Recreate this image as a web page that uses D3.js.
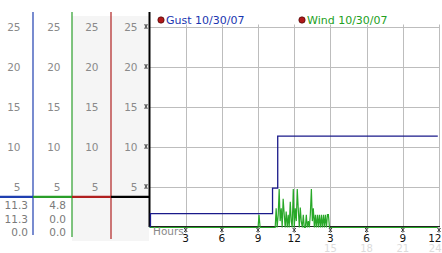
<!DOCTYPE html>
<html>
<head>
<meta charset="utf-8">
<script src="https://cdn.jsdelivr.net/npm/d3@7"></script>
<style>
  body { margin: 0; background: #fff; }
  text { font-family: "DejaVu Sans", Verdana, sans-serif; }
</style>
</head>
<body>
<svg id="chart" width="442" height="253"></svg>
<script>
// values
var yTicks = [5, 10, 15, 20, 25];
var hourTicks = [3, 6, 9, 12, 15, 18, 21, 24];
var hourLabels = ["3", "6", "9", "12", "3", "6", "9", "12"];
var altHours = [15, 18, 21, 24];
var altLabels = ["15", "18", "21", "24"];

var seriesNames = ["Gust 10/30/07", "Wind 10/30/07"];
var gustSummary = ["11.3", "11.3", "0.0"];
var windSummary = ["4.8", "0.0", "0.0"];

var gustHours = [0, 0.08, 10.2, 10.63, 23.9];
var gustValues = [0, 1.6, 4.8, 11.3, 11.3];

var windHours = [0, 9.0, 9.08, 9.17, 10.42, 10.5, 10.58, 10.67, 10.75, 10.83, 10.92, 11.0, 11.08, 11.17,
  11.25, 11.33, 11.42, 11.5, 11.58, 11.67, 11.75, 11.83, 11.92, 12.0, 12.08, 12.17, 12.25, 12.33,
  12.42, 12.5, 12.58, 12.67, 12.75, 12.83, 12.92, 13.0, 13.08, 13.17, 13.25, 13.33, 13.42, 13.5,
  13.58, 13.67, 13.75, 13.83, 13.92, 14.0, 14.08, 14.17, 14.25, 14.33, 14.42, 14.5, 14.58, 14.67,
  14.75, 14.83, 14.92, 15.0, 23.9];
var windValues = [0, 0, 1.6, 0, 0, 2.4, 0, 1.6, 4.8, 0.8, 2.4, 0, 3.6, 1.6, 0, 2.0, 0, 1.6, 0, 3.2,
  0.8, 0, 4.8, 0, 2.4, 0.8, 4.8, 2.4, 0, 2.5, 0.8, 0, 1.6, 0, 0, 1.6, 0, 0.8, 0, 1.6,
  4.8, 0.8, 2.4, 0, 1.6, 0, 1.6, 0, 1.6, 0, 1.6, 0, 1.6, 0, 1.6, 0, 1.6, 1.6, 0, 0, 0];

var svg = d3.select("#chart");

var x = d3.scaleLinear().domain([0, 24]).range([149.5, 439]);
var y = d3.scaleLinear().domain([0, 25]).range([226.5, 26.5]);

// left value columns
var cols = [
  { x: 33, lab: 20, color: "#1f3fb0", bottom: 235 },
  { x: 72, lab: 60, color: "#2a9e2a", bottom: 237 },
  { x: 111, lab: 98, color: "#b02020", bottom: 239 },
  { x: 149.5, lab: 137, color: "#000", bottom: 227 }
];

// shaded panels
svg.append("rect").attr("x", 72).attr("y", 16).attr("width", 77).attr("height", 225).attr("fill", "#f5f5f5");

// grid
var grid = svg.append("g").attr("stroke", "#bdbdbd").attr("stroke-width", 1);
grid.selectAll(".h").data(yTicks).enter().append("line")
  .attr("x1", x(0)).attr("x2", 440)
  .attr("y1", function(d) { return Math.round(y(d)) + 0.5; })
  .attr("y2", function(d) { return Math.round(y(d)) + 0.5; });
grid.selectAll(".v").data(hourTicks).enter().append("line")
  .attr("x1", function(d) { return Math.round(x(d)) + 0.5; })
  .attr("x2", function(d) { return Math.round(x(d)) + 0.5; })
  .attr("y1", y(25) - 2).attr("y2", y(0));

// column labels
cols.forEach(function(c) {
  svg.append("g").selectAll("text").data(yTicks).enter().append("text")
    .attr("x", c.lab + 0.5)
    .attr("y", function(d) { return y(d) + 4; })
    .attr("text-anchor", "end")
    .attr("fill", "#8a8a8a")
    .style("font-size", "10.5px")
    .text(function(d) { return d; });
});

// tiny tick glyphs
function glyph(g) {
  g.append("path").attr("d", "M-1.5,-2L1.5,2M1.5,-2L-1.5,2M0,-2.5L0,-1.5M0,1.5L0,2.5")
    .attr("stroke", "#222").attr("stroke-width", 0.9).attr("fill", "none");
}
svg.append("g").selectAll("g").data(yTicks).enter().append("g")
  .attr("transform", function(d) { return "translate(146," + y(d) + ")"; })
  .each(function() { glyph(d3.select(this)); });

// vertical colour lines
cols.forEach(function(c) {
  svg.append("line")
    .attr("x1", c.x).attr("x2", c.x).attr("y1", 12).attr("y2", c.bottom)
    .attr("stroke", c.color).attr("stroke-width", c.x > 140 ? 2 : 1.2);
});

// horizontal colour bar
var barY = y(3.7);
var starts = [0, 33, 72, 111];
cols.forEach(function(c, i) {
  svg.append("line")
    .attr("x1", starts[i]).attr("x2", c.x)
    .attr("y1", barY).attr("y2", barY)
    .attr("stroke", c.color).attr("stroke-width", 2.2);
});

// summary values
svg.append("g").selectAll("text").data(gustSummary).enter().append("text")
  .attr("x", 28).attr("y", function(d, i) { return 209 + i * 13.5; })
  .attr("text-anchor", "end").attr("fill", "#7a7a7a").style("font-size", "10.5px")
  .text(function(d) { return d; });
svg.append("g").selectAll("text").data(windSummary).enter().append("text")
  .attr("x", 66).attr("y", function(d, i) { return 209 + i * 13.5; })
  .attr("text-anchor", "end").attr("fill", "#7a7a7a").style("font-size", "10.5px")
  .text(function(d) { return d; });

// x axis baseline
svg.append("line").attr("x1", x(0)).attr("x2", 440).attr("y1", 226.5).attr("y2", 226.5)
  .attr("stroke", "#222").attr("stroke-width", 1);

// wind line
var windData = windHours.map(function(h, i) { return [h, windValues[i]]; });
svg.append("path")
  .datum(windData)
  .attr("transform", "translate(0,1)")
  .attr("fill", "none")
  .attr("stroke", "#28a828")
  .attr("stroke-width", 1.2)
  .attr("d", d3.line().x(function(d) { return x(d[0]); }).y(function(d) { return y(d[1]); }));

// gust line
var gustData = gustHours.map(function(h, i) { return [h, gustValues[i]]; });
svg.append("path")
  .datum(gustData)
  .attr("fill", "none")
  .attr("stroke", "#1a1a8a")
  .attr("stroke-width", 1.3)
  .attr("d", d3.line().curve(d3.curveStepAfter).x(function(d) { return x(d[0]); }).y(function(d) { return y(d[1]); }));

// x labels
svg.append("text").attr("x", 153).attr("y", 235).attr("fill", "#8a8a8a").style("font-size", "10.5px").text("Hours");
svg.append("g").selectAll("g").data(hourTicks).enter().append("g")
  .attr("transform", function(d) { return "translate(" + x(d) + ",230)"; })
  .each(function() { glyph(d3.select(this)); });
svg.append("g").selectAll("text").data(hourTicks).enter().append("text")
  .attr("x", function(d) { return d === 24 ? x(d) + 2.5 : x(d); })
  .attr("y", 242)
  .attr("text-anchor", function(d) { return d === 24 ? "end" : "middle"; })
  .attr("fill", "#111")
  .style("font-size", "10.5px")
  .text(function(d, i) { return hourLabels[i]; });
svg.append("g").selectAll("text").data(altHours).enter().append("text")
  .attr("x", function(d) { return d === 24 ? x(d) + 2.5 : x(d); })
  .attr("y", 252)
  .attr("text-anchor", function(d) { return d === 24 ? "end" : "middle"; })
  .attr("fill", "#dcdcdc")
  .style("font-size", "10px")
  .text(function(d, i) { return altLabels[i]; });

// legend
var legendX = [161, 302];
var legendColors = ["#1a35b0", "#22a022"];
seriesNames.forEach(function(n, i) {
  svg.append("circle").attr("cx", legendX[i]).attr("cy", 20).attr("r", 3.2)
    .attr("fill", "#b01818").attr("stroke", "#300").attr("stroke-width", 0.6);
  svg.append("text").attr("x", legendX[i] + 5).attr("y", 24)
    .attr("fill", legendColors[i]).style("font-size", "11px").text(n);
});
</script>
</body>
</html>
